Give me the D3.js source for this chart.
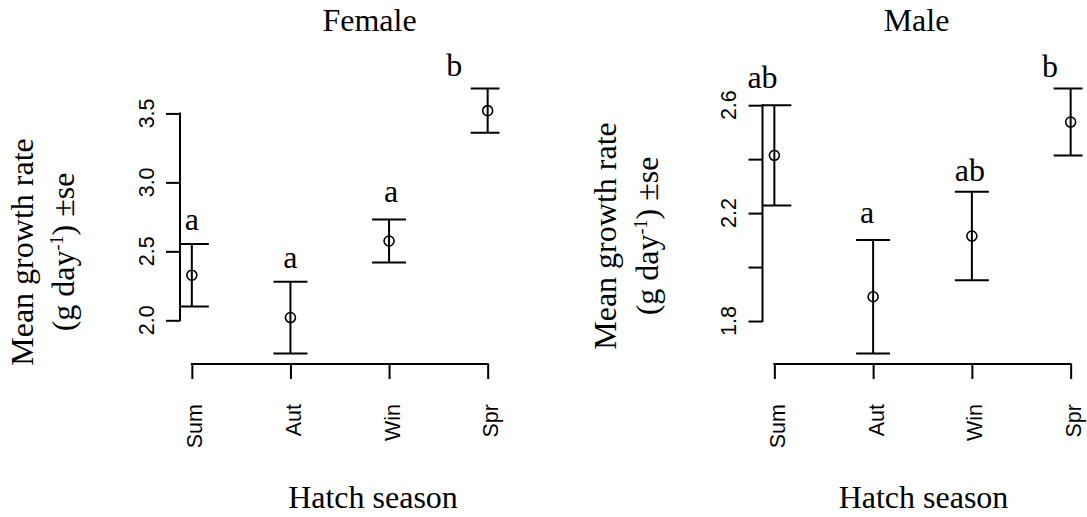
<!DOCTYPE html>
<html>
<head>
<meta charset="utf-8">
<script src="https://cdn.jsdelivr.net/npm/d3@7"></script>
<style>
  html, body { margin: 0; padding: 0; background: #fff; }
  svg { display: block; }
</style>
</head>
<body>
<svg id="chart" width="1087" height="517"></svg>
<script>
// ---- data ----
const categories = ["Sum", "Aut", "Win", "Spr"];
const categoryIndex = [1, 2, 3, 4];

const femaleMean = [2.327, 2.02, 2.575, 3.52];
const femaleSE   = [0.227, 0.26, 0.155, 0.16];
const maleMean   = [2.414, 1.89, 2.115, 2.5375];
const maleSE     = [0.186, 0.21, 0.164, 0.124];

const femaleTicks = [2.0, 2.5, 3.0, 3.5];
const femaleTickLabels = ["2.0", "2.5", "3.0", "3.5"];
const maleTicks = [1.8, 2.0, 2.2, 2.4, 2.6];
const maleTickLabels = ["1.8", "", "2.2", "", "2.6"];

const femaleLetters = ["a", "a", "a", "b"];
const femaleLetterX = [1.0, 2.0, 3.02, 3.66];
const femaleLetterY = [2.655, 2.376, 2.857, 3.772];
const maleLetters = ["ab", "a", "ab", "b"];
const maleLetterX = [0.88, 1.94, 2.98, 3.79];
const maleLetterY = [2.664, 2.164, 2.319, 2.705];

const panelTitles = ["Female", "Male"];
const xAxisTitle = "Hatch season";

// ---- layout ----
const svg = d3.select("#chart");
const serif = "'Liberation Serif', 'Times New Roman', serif";
const sans = "'Liberation Sans', Arial, Helvetica, sans-serif";
const serifSize = 32;

const panels = [
  { title: panelTitles[0], mean: femaleMean, se: femaleSE, ticks: femaleTicks, tickLabels: femaleTickLabels,
    letters: femaleLetters, lx: femaleLetterX, ly: femaleLetterY,
    x0: 180, x1: 499.5, titleX: 369.5, xlabX: 373, ylabX: 32.5, ylab2X: 73.5, ylabY: 252 },
  { title: panelTitles[1], mean: maleMean, se: maleSE, ticks: maleTicks, tickLabels: maleTickLabels,
    letters: maleLetters, lx: maleLetterX, ly: maleLetterY,
    x0: 762.5, x1: 1082.5, titleX: 916.5, xlabX: 923.5, ylabX: 616, ylab2X: 658, ylabY: 236 }
];
const yTop = 78, yBot = 364;

panels.forEach((p, pi) => {
  const lo = d3.min(p.mean.map((m, i) => m - p.se[i]));
  const hi = d3.max(p.mean.map((m, i) => m + p.se[i]));
  const ext = (hi - lo) * 0.04;
  const y = d3.scaleLinear().domain([lo - ext, hi + ext]).range([yBot, yTop]);
  const xe = (4 - 1) * 0.04;
  const x = d3.scaleLinear().domain([1 - xe, 4 + xe]).range([p.x0, p.x1]);

  const g = svg.append("g");

  // clip for error bars (plot region)
  const clipId = "clip" + pi;
  svg.append("clipPath").attr("id", clipId)
    .append("rect").attr("x", p.x0).attr("y", yTop).attr("width", p.x1 - p.x0).attr("height", yBot - yTop);

  // y axis
  const yAxis = d3.axisLeft(y).tickValues(p.ticks).tickSize(14).tickFormat(() => "");
  const ya = g.append("g").attr("transform", `translate(${p.x0},0)`).call(yAxis);
  ya.select(".domain").remove();
  ya.selectAll(".tick line").attr("stroke", "#000").attr("stroke-width", 2);
  g.append("line")
    .attr("x1", p.x0).attr("x2", p.x0)
    .attr("y1", y(p.ticks[0])).attr("y2", y(p.ticks[p.ticks.length - 1]))
    .attr("stroke", "#000").attr("stroke-width", 2).attr("stroke-linecap", "square");
  g.selectAll(".ytl").data(p.ticks).enter().append("text")
    .attr("transform", d => `translate(${p.x0 - 26.5},${y(d)}) rotate(-90)`)
    .attr("text-anchor", "middle")
    .attr("font-family", sans).attr("font-size", 21.5)
    .text((d, i) => p.tickLabels[i]);

  // x axis
  const xAxis = d3.axisBottom(x).tickValues(categoryIndex).tickSize(15).tickFormat(() => "");
  const xa = g.append("g").attr("transform", `translate(0,${yBot})`).call(xAxis);
  xa.select(".domain").remove();
  xa.selectAll(".tick line").attr("stroke", "#000").attr("stroke-width", 2);
  g.append("line")
    .attr("x1", x(1)).attr("x2", x(4))
    .attr("y1", yBot).attr("y2", yBot)
    .attr("stroke", "#000").attr("stroke-width", 2).attr("stroke-linecap", "square");
  g.selectAll(".xtl").data(categoryIndex).enter().append("text")
    .attr("transform", d => `translate(${x(d) + 10.5},404) rotate(-90)`)
    .attr("text-anchor", "end")
    .attr("font-family", sans).attr("font-size", 21.5)
    .text((d, i) => categories[i]);

  // error bars
  const eb = g.append("g").attr("clip-path", `url(#${clipId})`)
    .attr("stroke", "#000").attr("stroke-width", 2).attr("fill", "none");
  categoryIndex.forEach((c, i) => {
    const cx = x(c), top = y(p.mean[i] + p.se[i]), bot = y(p.mean[i] - p.se[i]);
    eb.append("line").attr("x1", cx).attr("x2", cx).attr("y1", top).attr("y2", bot);
    eb.append("line").attr("x1", cx - 17).attr("x2", cx + 17).attr("y1", top).attr("y2", top);
    eb.append("line").attr("x1", cx - 17).attr("x2", cx + 17).attr("y1", bot).attr("y2", bot);
  });

  // points
  g.selectAll(".pt").data(categoryIndex).enter().append("circle")
    .attr("cx", d => x(d)).attr("cy", (d, i) => y(p.mean[i]))
    .attr("r", 5).attr("fill", "none").attr("stroke", "#000").attr("stroke-width", 1.6);

  // significance letters
  g.selectAll(".let").data(p.letters).enter().append("text")
    .attr("x", (d, i) => x(p.lx[i])).attr("y", (d, i) => y(p.ly[i]))
    .attr("text-anchor", "middle")
    .attr("font-family", serif).attr("font-size", serifSize)
    .text(d => d);

  // title
  g.append("text").attr("x", p.titleX).attr("y", 31)
    .attr("text-anchor", "middle").attr("font-family", serif).attr("font-size", serifSize)
    .text(p.title);

  // x axis title
  g.append("text").attr("x", p.xlabX).attr("y", 508)
    .attr("text-anchor", "middle").attr("font-family", serif).attr("font-size", serifSize)
    .text(xAxisTitle);

  // y axis title (two lines)
  g.append("text")
    .attr("transform", `translate(${p.ylabX},${p.ylabY}) rotate(-90)`)
    .attr("text-anchor", "middle").attr("font-family", serif).attr("font-size", serifSize)
    .text("Mean growth rate");
  const t2 = g.append("text")
    .attr("transform", `translate(${p.ylab2X},${p.ylabY}) rotate(-90)`)
    .attr("text-anchor", "middle").attr("font-family", serif).attr("font-size", serifSize);
  t2.append("tspan").text("(g day");
  t2.append("tspan").attr("font-size", 18).attr("dy", -11).text("-1");
  t2.append("tspan").attr("dy", 11).text(") ±se");
});
</script>
</body>
</html>
